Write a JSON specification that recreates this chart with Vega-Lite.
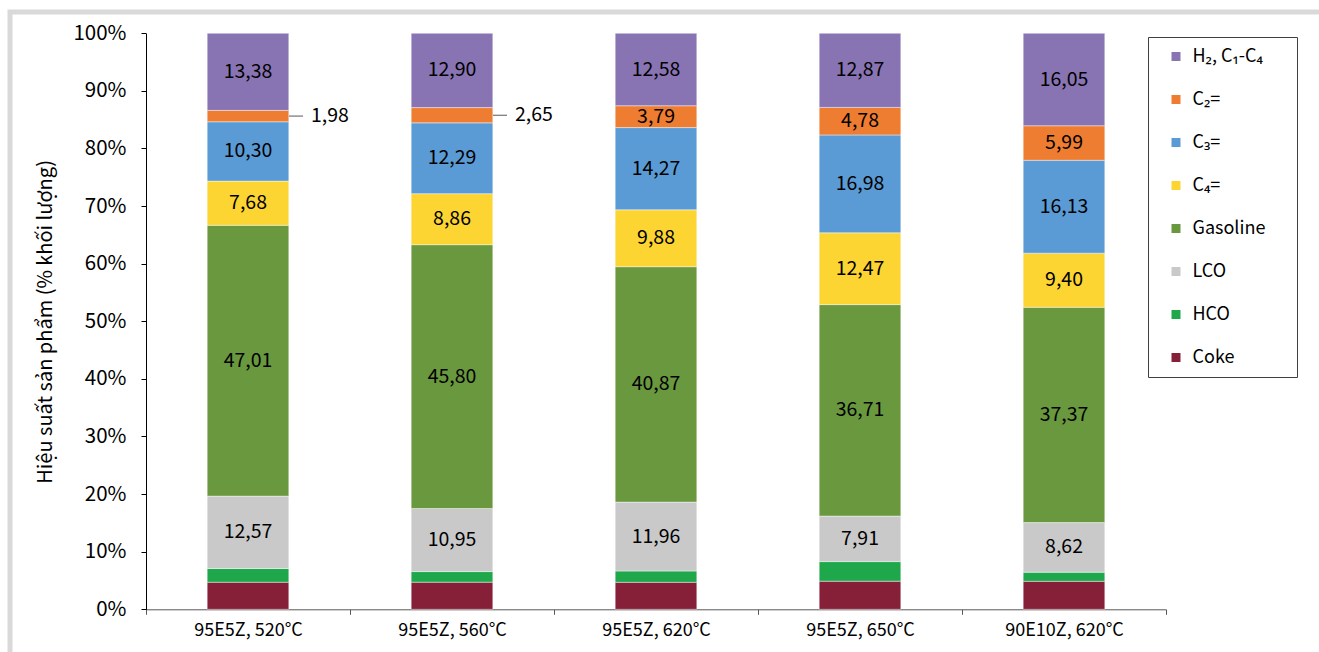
{
  "$schema": "https://vega.github.io/schema/vega-lite/v6.json",
  "autosize": "none",
  "padding": {"left": 10, "top": 12, "right": 0, "bottom": 0},
  "width": 1320,
  "height": 660,
  "background": "white",
  "config": {
    "view": {"stroke": "#d9d9d9", "strokeWidth": 5},
    "font": "Noto Sans CJK SC, Noto Sans, sans-serif",
    "locale": {"number": {"decimal": ",", "thousands": ".", "grouping": [3], "currency": ["", ""]}},
    "axisY": {
      "offset": -136,
      "tickSize": 5,
      "labelPadding": 15,
      "labelFontSize": 20.5,
      "labelColor": "#000000",
      "labelExpr": "datum.value + '%'",
      "titleFontSize": 20,
      "titleFontWeight": "normal",
      "titleColor": "#000000",
      "titlePadding": 17,
      "domainColor": "#000000",
      "tickColor": "#000000",
      "grid": false
    }
  },
  "data": {
    "values": [
      {"cat": "95E5Z, 520°C", "series": "Coke", "value": 4.70},
      {"cat": "95E5Z, 520°C", "series": "HCO", "value": 2.38},
      {"cat": "95E5Z, 520°C", "series": "LCO", "value": 12.57},
      {"cat": "95E5Z, 520°C", "series": "Gasoline", "value": 47.01},
      {"cat": "95E5Z, 520°C", "series": "C₄=", "value": 7.68},
      {"cat": "95E5Z, 520°C", "series": "C₃=", "value": 10.30},
      {"cat": "95E5Z, 520°C", "series": "C₂=", "value": 1.98},
      {"cat": "95E5Z, 520°C", "series": "H₂, C₁-C₄", "value": 13.38},

      {"cat": "95E5Z, 560°C", "series": "Coke", "value": 4.71},
      {"cat": "95E5Z, 560°C", "series": "HCO", "value": 1.84},
      {"cat": "95E5Z, 560°C", "series": "LCO", "value": 10.95},
      {"cat": "95E5Z, 560°C", "series": "Gasoline", "value": 45.80},
      {"cat": "95E5Z, 560°C", "series": "C₄=", "value": 8.86},
      {"cat": "95E5Z, 560°C", "series": "C₃=", "value": 12.29},
      {"cat": "95E5Z, 560°C", "series": "C₂=", "value": 2.65},
      {"cat": "95E5Z, 560°C", "series": "H₂, C₁-C₄", "value": 12.90},

      {"cat": "95E5Z, 620°C", "series": "Coke", "value": 4.69},
      {"cat": "95E5Z, 620°C", "series": "HCO", "value": 1.96},
      {"cat": "95E5Z, 620°C", "series": "LCO", "value": 11.96},
      {"cat": "95E5Z, 620°C", "series": "Gasoline", "value": 40.87},
      {"cat": "95E5Z, 620°C", "series": "C₄=", "value": 9.88},
      {"cat": "95E5Z, 620°C", "series": "C₃=", "value": 14.27},
      {"cat": "95E5Z, 620°C", "series": "C₂=", "value": 3.79},
      {"cat": "95E5Z, 620°C", "series": "H₂, C₁-C₄", "value": 12.58},

      {"cat": "95E5Z, 650°C", "series": "Coke", "value": 4.88},
      {"cat": "95E5Z, 650°C", "series": "HCO", "value": 3.40},
      {"cat": "95E5Z, 650°C", "series": "LCO", "value": 7.91},
      {"cat": "95E5Z, 650°C", "series": "Gasoline", "value": 36.71},
      {"cat": "95E5Z, 650°C", "series": "C₄=", "value": 12.47},
      {"cat": "95E5Z, 650°C", "series": "C₃=", "value": 16.98},
      {"cat": "95E5Z, 650°C", "series": "C₂=", "value": 4.78},
      {"cat": "95E5Z, 650°C", "series": "H₂, C₁-C₄", "value": 12.87},

      {"cat": "90E10Z, 620°C", "series": "Coke", "value": 4.86},
      {"cat": "90E10Z, 620°C", "series": "HCO", "value": 1.58},
      {"cat": "90E10Z, 620°C", "series": "LCO", "value": 8.62},
      {"cat": "90E10Z, 620°C", "series": "Gasoline", "value": 37.37},
      {"cat": "90E10Z, 620°C", "series": "C₄=", "value": 9.40},
      {"cat": "90E10Z, 620°C", "series": "C₃=", "value": 16.13},
      {"cat": "90E10Z, 620°C", "series": "C₂=", "value": 5.99},
      {"cat": "90E10Z, 620°C", "series": "H₂, C₁-C₄", "value": 16.05}
    ]
  },
  "transform": [
    {"calculate": "indexof(['Coke','HCO','LCO','Gasoline','C₄=','C₃=','C₂=','H₂, C₁-C₄'], datum.series)", "as": "ord"},
    {"stack": "value", "groupby": ["cat"], "sort": [{"field": "ord", "order": "ascending"}], "as": ["v0", "v1"]},
    {"calculate": "(datum.v0 + datum.v1) / 2", "as": "mid"}
  ],
  "encoding": {
    "x": {
      "field": "cat",
      "type": "nominal",
      "sort": null,
      "scale": {"range": [136, 1156], "paddingInner": 0, "paddingOuter": 0},
      "axis": {
        "title": null,
        "orient": "bottom",
        "offset": -62.7,
        "tickBand": "extent",
        "labelAngle": 0,
        "tickSize": 5,
        "labelPadding": 7,
        "labelFontSize": 18,
        "labelColor": "#000000",
        "domainColor": "#595959",
        "tickColor": "#595959",
        "grid": false
      }
    }
  },
  "layer": [
    {
      "mark": {"type": "bar", "width": {"band": 0.4}, "stroke": "#ffffff", "strokeWidth": 0.6, "strokeOpacity": 0.7},
      "encoding": {
        "y": {
          "field": "v0",
          "type": "quantitative",
          "title": "Hiệu suất sản phẩm (% khối lượng)",
          "scale": {"domain": [0, 100], "range": [597.3, 21.3], "nice": false, "zero": false},
          "axis": {"values": [0, 10, 20, 30, 40, 50, 60, 70, 80, 90, 100]}
        },
        "y2": {"field": "v1"},
        "color": {
          "field": "series",
          "type": "nominal",
          "scale": {
            "domain": ["H₂, C₁-C₄", "C₂=", "C₃=", "C₄=", "Gasoline", "LCO", "HCO", "Coke"],
            "range": ["#8974B3", "#EE7D31", "#5B9BD5", "#FDD533", "#6A983F", "#C9C9C9", "#1FA84B", "#861F38"]
          },
          "legend": {
            "title": null,
            "orient": "none",
            "legendX": 1138,
            "legendY": 25,
            "symbolType": "square",
            "symbolSize": 81,
            "symbolStrokeWidth": 0,
            "symbolOpacity": 1,
            "labelFontSize": 18,
            "labelColor": "#000000",
            "labelExpr": "datum.label + '\u00a0\u00a0\u2800'",
            "padding": 10.5,
            "rowPadding": 25,
            "symbolOffset": 8.5,
            "labelOffset": 7.5,
            "strokeColor": "#404040",
            "fillColor": "#ffffff"
          }
        }
      }
    },
    {
      "transform": [
        {"filter": "datum.series != 'Coke' && datum.series != 'HCO' && !(datum.series == 'C₂=' && datum.value < 3)"}
      ],
      "mark": {"type": "text", "fontSize": 19.5, "color": "#000000", "baseline": "middle", "align": "center"},
      "encoding": {
        "y": {
          "field": "mid",
          "type": "quantitative",
          "title": "Hiệu suất sản phẩm (% khối lượng)",
          "scale": {"domain": [0, 100], "range": [597.3, 21.3], "nice": false, "zero": false},
          "axis": {"values": [0, 10, 20, 30, 40, 50, 60, 70, 80, 90, 100]}
        },
        "text": {"field": "value", "type": "quantitative", "format": ".2f"}
      }
    },
    {
      "transform": [
        {"filter": "datum.series == 'C₂=' && datum.value < 3"}
      ],
      "mark": {"type": "rule", "xOffset": 41, "x2Offset": 55, "color": "#595959", "strokeWidth": 1},
      "encoding": {
        "x2": {"field": "cat"},
        "y": {
          "field": "mid",
          "type": "quantitative",
          "title": "Hiệu suất sản phẩm (% khối lượng)",
          "scale": {"domain": [0, 100], "range": [597.3, 21.3], "nice": false, "zero": false},
          "axis": {"values": [0, 10, 20, 30, 40, 50, 60, 70, 80, 90, 100]}
        }
      }
    },
    {
      "transform": [
        {"filter": "datum.series == 'C₂=' && datum.value < 3"}
      ],
      "mark": {"type": "text", "fontSize": 19.5, "color": "#000000", "baseline": "middle", "align": "left", "dx": 63},
      "encoding": {
        "y": {
          "field": "mid",
          "type": "quantitative",
          "title": "Hiệu suất sản phẩm (% khối lượng)",
          "scale": {"domain": [0, 100], "range": [597.3, 21.3], "nice": false, "zero": false},
          "axis": {"values": [0, 10, 20, 30, 40, 50, 60, 70, 80, 90, 100]}
        },
        "text": {"field": "value", "type": "quantitative", "format": ".2f"}
      }
    }
  ]
}
